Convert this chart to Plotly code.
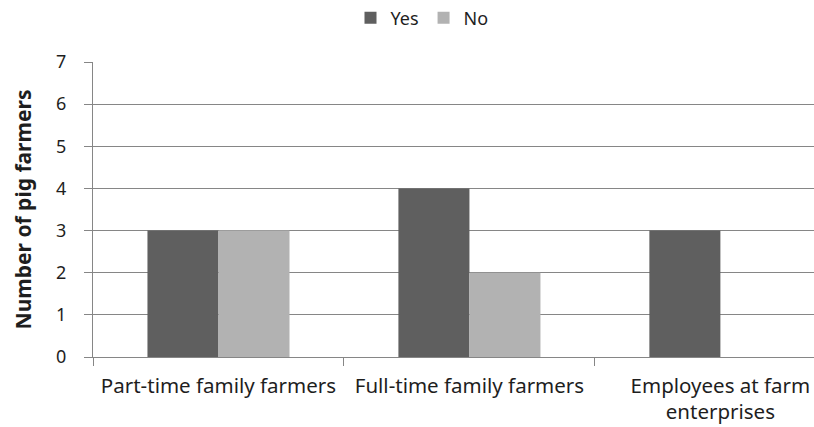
import plotly.graph_objects as go

categories = ["Part-time family farmers", "Full-time family farmers", "Employees at farm<br>enterprises"]
yes_values = [3, 4, 3]
no_values = [3, 2, 0]
y_ticks = [0, 1, 2, 3, 4, 5, 6, 7]

FONT = "Noto Sans"
GRID = "#868686"

fig = go.Figure()
fig.add_trace(go.Bar(name="Yes", x=categories, y=yes_values, marker=dict(color="#5f5f5f", line=dict(width=0))))
fig.add_trace(go.Bar(name="No", x=categories, y=no_values, marker=dict(color="#b2b2b2", line=dict(width=0))))

fig.update_layout(
    width=814, height=427,
    margin=dict(l=93, r=0, t=62, b=70),
    paper_bgcolor="white", plot_bgcolor="white",
    barmode="group", bargap=0.434, bargroupgap=0,
    font=dict(family=FONT, size=19, color="#1e1e1e"),
    legend=dict(orientation="h", xref="container", x=422/814, xanchor="center",
                y=1 - 18/427, yanchor="middle", yref="container",
                font=dict(size=18), traceorder="normal"),
    xaxis=dict(range=[-0.5, 2.373], showline=True, linecolor=GRID, linewidth=1,
               ticks="outside", tickson="boundaries", ticklen=8, tickcolor=GRID,
               showgrid=False, tickfont=dict(size=20.5), ticklabelstandoff=10,
               automargin=False),
    yaxis=dict(range=[0, 7], tickvals=y_ticks, showline=True, linecolor=GRID, linewidth=1,
               ticks="outside", ticklen=8, tickcolor=GRID, gridcolor=GRID, gridwidth=1,
               zeroline=False, tickfont=dict(size=18), ticklabelstandoff=14, automargin=False,
               title=dict(text="<b>Number of pig farmers</b>", font=dict(size=21), standoff=18)),
)

fig.write_html("out.html")
